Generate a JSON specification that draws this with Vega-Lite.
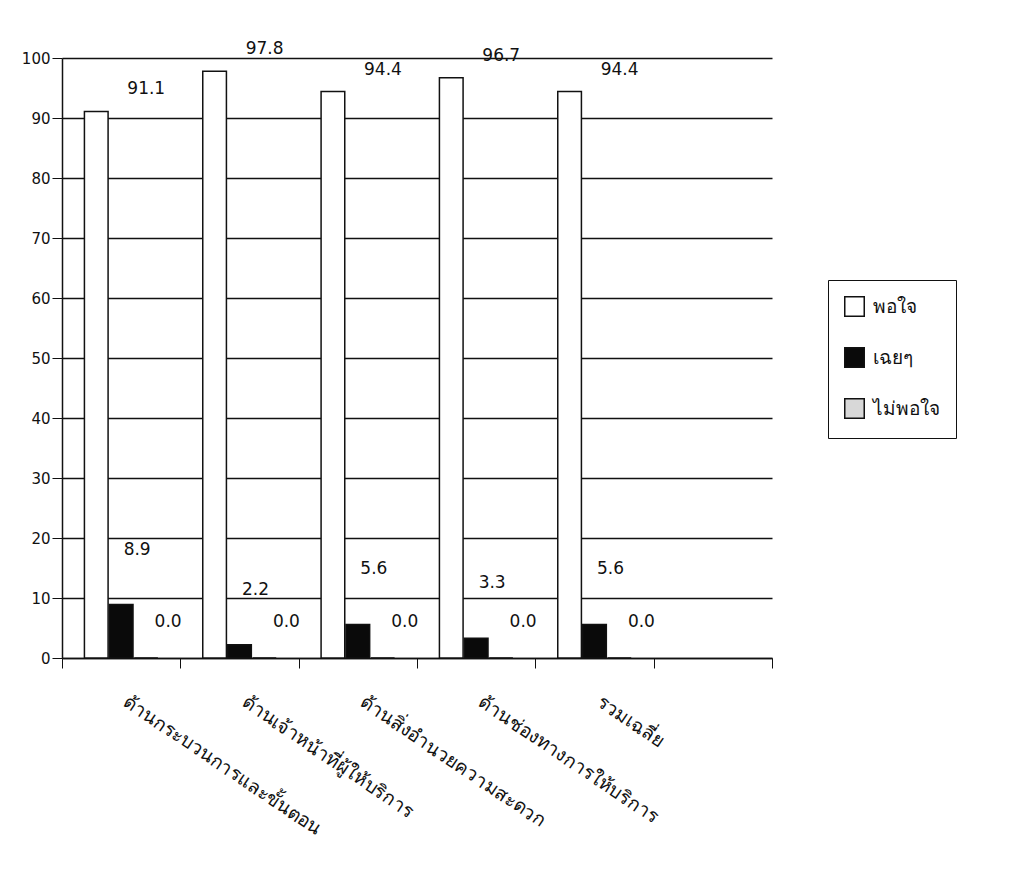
{
  "$schema": "https://vega.github.io/schema/vega-lite/v6.json",
  "width": 710,
  "height": 600,
  "autosize": {"type": "none"},
  "padding": {"left": 62, "top": 58, "right": 252, "bottom": 235},
  "background": "white",
  "config": {
    "view": {"stroke": null},
    "font": "DejaVu Sans",
    "axis": {"labelFont": "DejaVu Sans", "labelColor": "#111", "domainColor": "#111", "tickColor": "#111"}
  },
  "data": {
    "values": [
      {"cat": "ด้านกระบวนการและขั้นตอน", "level": "พอใจ", "value": 91.1},
      {"cat": "ด้านกระบวนการและขั้นตอน", "level": "เฉยๆ", "value": 8.9},
      {"cat": "ด้านกระบวนการและขั้นตอน", "level": "ไม่พอใจ", "value": 0.0},
      {"cat": "ด้านเจ้าหน้าที่ผู้ให้บริการ", "level": "พอใจ", "value": 97.8},
      {"cat": "ด้านเจ้าหน้าที่ผู้ให้บริการ", "level": "เฉยๆ", "value": 2.2},
      {"cat": "ด้านเจ้าหน้าที่ผู้ให้บริการ", "level": "ไม่พอใจ", "value": 0.0},
      {"cat": "ด้านสิ่งอำนวยความสะดวก", "level": "พอใจ", "value": 94.4},
      {"cat": "ด้านสิ่งอำนวยความสะดวก", "level": "เฉยๆ", "value": 5.6},
      {"cat": "ด้านสิ่งอำนวยความสะดวก", "level": "ไม่พอใจ", "value": 0.0},
      {"cat": "ด้านช่องทางการให้บริการ", "level": "พอใจ", "value": 96.7},
      {"cat": "ด้านช่องทางการให้บริการ", "level": "เฉยๆ", "value": 3.3},
      {"cat": "ด้านช่องทางการให้บริการ", "level": "ไม่พอใจ", "value": 0.0},
      {"cat": "รวมเฉลี่ย", "level": "พอใจ", "value": 94.4},
      {"cat": "รวมเฉลี่ย", "level": "เฉยๆ", "value": 5.6},
      {"cat": "รวมเฉลี่ย", "level": "ไม่พอใจ", "value": 0.0}
    ]
  },
  "encoding": {
    "x": {
      "field": "cat",
      "type": "nominal",
      "sort": null,
      "title": null,
      "scale": {
        "domain": ["ด้านกระบวนการและขั้นตอน", "ด้านเจ้าหน้าที่ผู้ให้บริการ", "ด้านสิ่งอำนวยความสะดวก", "ด้านช่องทางการให้บริการ", "รวมเฉลี่ย", " "],
        "paddingInner": 0,
        "paddingOuter": 0
      },
      "axis": {
        "labelAngle": 34,
        "labelAlign": "left",
        "labelBaseline": "middle",
        "labelFontSize": 19,
        "labelPadding": 32,
        "labelOffset": 4,
        "tickBand": "extent",
        "tickSize": 10,
        "domainWidth": 1.5,
        "labelLimit": 400
      }
    },
    "xOffset": {
      "field": "level",
      "type": "nominal",
      "sort": ["พอใจ", "เฉยๆ", "ไม่พอใจ"],
      "scale": {"paddingInner": 0.05, "paddingOuter": 0.9}
    },
    "y": {
      "field": "value",
      "type": "quantitative",
      "title": null,
      "scale": {"domain": [0, 100], "nice": false},
      "axis": {
        "values": [0, 10, 20, 30, 40, 50, 60, 70, 80, 90, 100],
        "labelFontSize": 15,
        "tickSize": 10,
        "domainWidth": 1.5,
        "grid": true,
        "gridColor": "#111",
        "gridWidth": 1.5,
        "gridOpacity": 1
      }
    }
  },
  "layer": [
    {
      "mark": {"type": "bar", "stroke": "#111", "strokeWidth": 1.5},
      "encoding": {
        "fill": {
          "field": "level",
          "type": "nominal",
          "sort": ["พอใจ", "เฉยๆ", "ไม่พอใจ"],
          "scale": {"domain": ["พอใจ", "เฉยๆ", "ไม่พอใจ"], "range": ["#ffffff", "#0a0a0a", "#d8d8d8"]},
          "legend": {
            "title": null,
            "orient": "none",
            "legendX": 766,
            "legendY": 222,
            "strokeColor": "#111",
            "padding": 16,
            "symbolType": "square",
            "symbolSize": 380,
            "symbolStrokeColor": "#111",
            "symbolStrokeWidth": 1.5,
            "labelFontSize": 19,
            "labelColor": "#111",
            "rowPadding": 24,
            "labelOffset": 8
          }
        }
      }
    },
    {
      "transform": [{"filter": "datum.level === 'พอใจ'"}],
      "mark": {"type": "text", "fontSize": 17, "dy": -22, "dx": 50, "color": "#111", "font": "DejaVu Sans"},
      "encoding": {
        "text": {"field": "value", "type": "quantitative", "format": ".1f"}
      }
    },
    {
      "transform": [{"filter": "datum.level === 'เฉยๆ'"}],
      "mark": {"type": "text", "fontSize": 17, "dy": -55, "dx": 16, "color": "#111", "font": "DejaVu Sans"},
      "encoding": {
        "text": {"field": "value", "type": "quantitative", "format": ".1f"}
      }
    },
    {
      "transform": [{"filter": "datum.level === 'ไม่พอใจ'"}],
      "mark": {"type": "text", "fontSize": 17, "dy": -36, "dx": 22, "color": "#111", "font": "DejaVu Sans"},
      "encoding": {
        "text": {"field": "value", "type": "quantitative", "format": ".1f"}
      }
    }
  ]
}
